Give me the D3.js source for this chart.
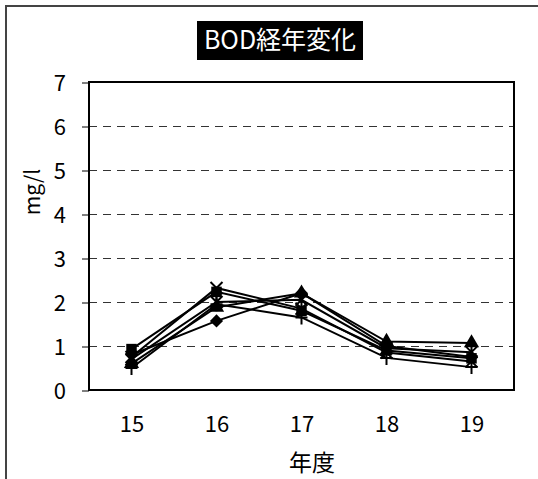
<!DOCTYPE html>
<html><head><meta charset="utf-8">
<script src="https://cdn.jsdelivr.net/npm/d3@7"></script>
<style>html,body{margin:0;padding:0;background:#fff;overflow:hidden}</style>
</head><body>
<svg id="c" width="538" height="479"></svg>
<script>
const years = ["15","16","17","18","19"];
const yTicks = [0,1,2,3,4,5,6,7];
const seriesDiamond  = [0.80, 1.57, 2.20, 1.00, 0.75];
const seriesSquare   = [0.93, 2.23, 1.80, 0.90, 0.72];
const seriesTriangle = [0.60, 1.88, 2.20, 1.10, 1.07];
const seriesX        = [0.75, 2.32, 1.85, 0.85, 0.65];
const seriesPlus     = [0.50, 1.95, 1.65, 0.73, 0.52];
const seriesStar     = [0.70, 2.00, 2.05, 0.95, 0.86];
const series = [
  {name:"diamond", values:seriesDiamond, sym:d3.symbolDiamond2},
  {name:"square", values:seriesSquare, sym:d3.symbolSquare},
  {name:"triangle", values:seriesTriangle, sym:d3.symbolTriangle},
  {name:"x", values:seriesX, sym:"x"},
  {name:"plus", values:seriesPlus, sym:"plus"},
  {name:"star", values:seriesStar, sym:"star"}
];

const svg = d3.select("#c");
const L=89, R=514, T=82, B=390;
const x = d3.scalePoint().domain(years).range([L,R]).padding(0.5);
const y = d3.scaleLinear().domain([0,7]).range([B,T]);
const jpFont = "'Noto Sans CJK JP', sans-serif";

// outer frame
svg.append("path").attr("d","M6,480 L6,6 L540,6").attr("fill","none").attr("stroke","#444").attr("stroke-width",2);

// title
svg.append("rect").attr("x",197).attr("y",21).attr("width",166).attr("height",39).attr("fill","#000");
svg.append("text").attr("x",280).attr("y",49).attr("text-anchor","middle").attr("fill","#fff")
  .attr("font-family",jpFont).attr("font-size",25).text("BOD経年変化");

// gridlines
svg.append("g").selectAll("line").data(yTicks.filter(d=>d>0&&d<7)).join("line")
  .attr("x1",L).attr("x2",R).attr("y1",d=>y(d)+0.5).attr("y2",d=>y(d)+0.5)
  .attr("stroke","#333").attr("stroke-width",1).attr("stroke-dasharray","8,6");

// y axis
const ya = svg.append("g").attr("transform",`translate(${L},0.5)`)
  .call(d3.axisLeft(y).tickValues(yTicks).tickFormat(d3.format("d")).tickSize(7).tickPadding(16));
ya.select(".domain").remove();
ya.selectAll("line").attr("stroke","#000").attr("stroke-width",1);
ya.selectAll("text").attr("font-family",jpFont).attr("font-size",22).attr("fill","#000").attr("dy","0.38em");

// x axis
const xa = svg.append("g").attr("transform",`translate(0,${B})`)
  .call(d3.axisBottom(x).tickSize(0).tickPadding(26));
xa.select(".domain").remove();
xa.selectAll("text").attr("font-family",jpFont).attr("font-size",22).attr("fill","#000");

// plot border
svg.append("rect").attr("x",L).attr("y",T).attr("width",R-L).attr("height",B-T)
  .attr("fill","none").attr("stroke","#000").attr("stroke-width",2);

// axis titles
svg.append("text").attr("x",312).attr("y",471).attr("text-anchor","middle")
  .attr("font-family",jpFont).attr("font-size",23).text("年度");
svg.append("text").attr("transform","translate(40,192) rotate(-90)").attr("text-anchor","middle")
  .attr("font-family",jpFont).attr("font-size",21).text("mg/l");

// lines
const line = d3.line().x((d,i)=>x(years[i])).y(d=>y(d));
const g = svg.append("g");
g.selectAll("path.ln").data(series).join("path").attr("class","ln")
  .attr("d",d=>line(d.values)).attr("fill","none").attr("stroke","#000").attr("stroke-width",2);

// markers
series.forEach(s=>{
  const mg = g.append("g");
  s.values.forEach((v,i)=>{
    const cx = x(years[i]), cy = y(v);
    if (typeof s.sym === "string") {
      let d;
      if (s.sym==="x") d = `M${cx-6},${cy-6}L${cx+6},${cy+6}M${cx-6},${cy+6}L${cx+6},${cy-6}`;
      else if (s.sym==="plus") d = `M${cx-6},${cy}L${cx+6},${cy}M${cx},${cy-7}L${cx},${cy+7}`;
      else d = `M${cx-6},${cy-6}L${cx+6},${cy+6}M${cx-6},${cy+6}L${cx+6},${cy-6}M${cx},${cy-7}L${cx},${cy+7}`;
      mg.append("path").attr("d",d).attr("stroke","#000").attr("stroke-width",2).attr("fill","none");
    } else {
      mg.append("path").attr("transform",`translate(${cx},${cy})`)
        .attr("d",d3.symbol().type(s.sym).size(s.name==="triangle"?100:110)()).attr("fill","#000");
    }
  });
});
</script>
</body></html>
